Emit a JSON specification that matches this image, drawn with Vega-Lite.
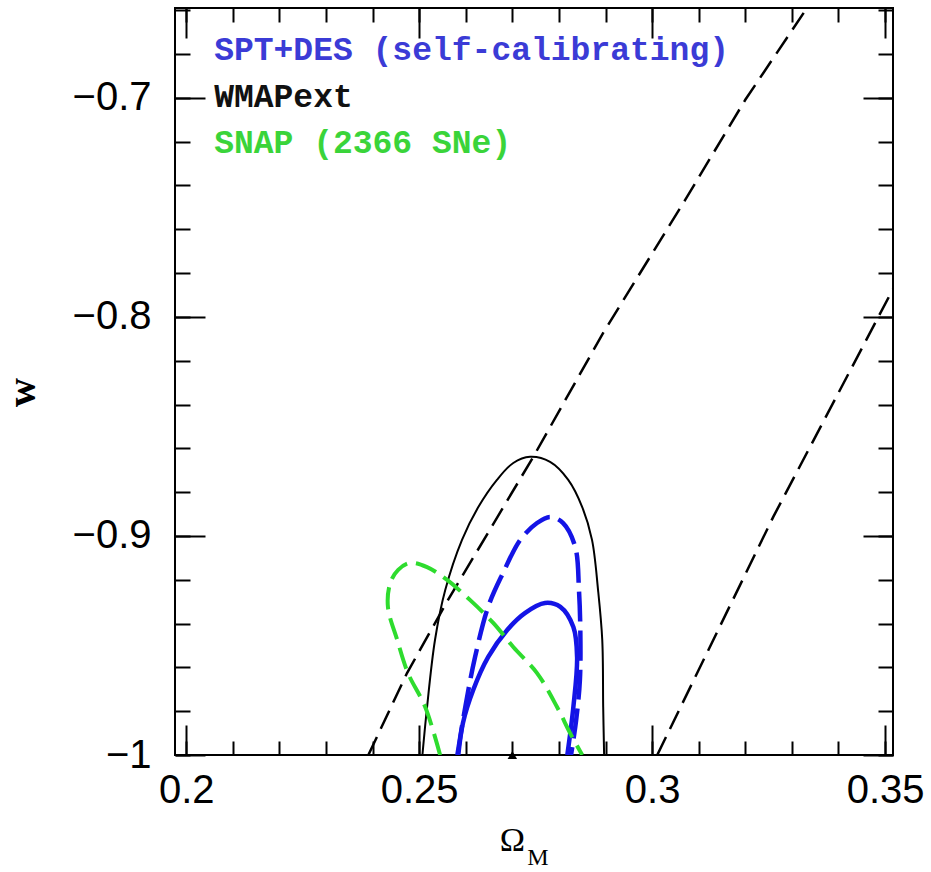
{
  "$schema": "https://vega.github.io/schema/vega-lite/v6.json",
  "width": 718,
  "height": 747,
  "autosize": {"type": "none"},
  "padding": {"left": 175, "top": 8, "right": 38, "bottom": 117},
  "background": "white",
  "config": {
    "view": {"stroke": "black", "strokeWidth": 2},
    "axis": {"grid": false, "domain": false, "tickColor": "black", "tickWidth": 2, "labelColor": "black", "titleColor": "black", "labelFlush": false, "labelOverlap": false}
  },
  "datasets": {
    "wmap": [
      {"i": 1, "x": 0.2507, "y": -1.0},
      {"i": 2, "x": 0.2517, "y": -0.9781},
      {"i": 3, "x": 0.2534, "y": -0.9475},
      {"i": 4, "x": 0.2556, "y": -0.9247},
      {"i": 5, "x": 0.2592, "y": -0.9018},
      {"i": 6, "x": 0.2627, "y": -0.8868},
      {"i": 7, "x": 0.2667, "y": -0.8744},
      {"i": 8, "x": 0.2702, "y": -0.8667},
      {"i": 9, "x": 0.2738, "y": -0.8639},
      {"i": 10, "x": 0.2781, "y": -0.8662},
      {"i": 11, "x": 0.2820, "y": -0.8744},
      {"i": 12, "x": 0.2850, "y": -0.8868},
      {"i": 13, "x": 0.2871, "y": -0.9018},
      {"i": 14, "x": 0.2884, "y": -0.9247},
      {"i": 15, "x": 0.2893, "y": -0.9475},
      {"i": 16, "x": 0.2895, "y": -0.9781},
      {"i": 17, "x": 0.2897, "y": -1.0}
    ],
    "wmapdash": [
      {"seg": "a", "i": 1, "x": 0.2391, "y": -1.0},
      {"seg": "a", "i": 2, "x": 0.2474, "y": -0.9626},
      {"seg": "a", "i": 3, "x": 0.2562, "y": -0.9292},
      {"seg": "a", "i": 4, "x": 0.2745, "y": -0.8639},
      {"seg": "a", "i": 5, "x": 0.2895, "y": -0.8073},
      {"seg": "a", "i": 6, "x": 0.3071, "y": -0.7466},
      {"seg": "a", "i": 7, "x": 0.3200, "y": -0.7009},
      {"seg": "a", "i": 8, "x": 0.3345, "y": -0.655},
      {"seg": "b", "i": 1, "x": 0.3011, "y": -1.0},
      {"seg": "b", "i": 2, "x": 0.3260, "y": -0.8913},
      {"seg": "b", "i": 3, "x": 0.3540, "y": -0.778}
    ],
    "blueout": [
      {"i": 1, "x": 0.2582, "y": -1.0},
      {"i": 2, "x": 0.2599, "y": -0.9781},
      {"i": 3, "x": 0.2620, "y": -0.9553},
      {"i": 4, "x": 0.2648, "y": -0.9324},
      {"i": 5, "x": 0.2680, "y": -0.9169},
      {"i": 6, "x": 0.2717, "y": -0.9018},
      {"i": 7, "x": 0.2753, "y": -0.8941},
      {"i": 8, "x": 0.2781, "y": -0.8913},
      {"i": 9, "x": 0.2809, "y": -0.8941},
      {"i": 10, "x": 0.2835, "y": -0.9050},
      {"i": 11, "x": 0.2843, "y": -0.9247},
      {"i": 12, "x": 0.2846, "y": -0.9443},
      {"i": 13, "x": 0.2845, "y": -0.9658},
      {"i": 14, "x": 0.2837, "y": -0.9840},
      {"i": 15, "x": 0.2826, "y": -1.0}
    ],
    "bluein": [
      {"i": 1, "x": 0.2584, "y": -1.0},
      {"i": 2, "x": 0.2594, "y": -0.9854},
      {"i": 3, "x": 0.2616, "y": -0.9703},
      {"i": 4, "x": 0.2648, "y": -0.9553},
      {"i": 5, "x": 0.2689, "y": -0.9429},
      {"i": 6, "x": 0.2727, "y": -0.9352},
      {"i": 7, "x": 0.2770, "y": -0.9306},
      {"i": 8, "x": 0.2803, "y": -0.9324},
      {"i": 9, "x": 0.2831, "y": -0.9416},
      {"i": 10, "x": 0.2839, "y": -0.9553},
      {"i": 11, "x": 0.2831, "y": -0.9781},
      {"i": 12, "x": 0.2818, "y": -1.0}
    ],
    "snap": [
      {"i": 1, "x": 0.2545, "y": -1.0},
      {"i": 2, "x": 0.2513, "y": -0.9781},
      {"i": 3, "x": 0.2476, "y": -0.9626},
      {"i": 4, "x": 0.2453, "y": -0.9475},
      {"i": 5, "x": 0.2433, "y": -0.9324},
      {"i": 6, "x": 0.2438, "y": -0.9215},
      {"i": 7, "x": 0.2455, "y": -0.9155},
      {"i": 8, "x": 0.2481, "y": -0.9123},
      {"i": 9, "x": 0.2517, "y": -0.9142},
      {"i": 10, "x": 0.2560, "y": -0.9201},
      {"i": 11, "x": 0.2609, "y": -0.9292},
      {"i": 12, "x": 0.2659, "y": -0.9397},
      {"i": 13, "x": 0.2702, "y": -0.9507},
      {"i": 14, "x": 0.2753, "y": -0.9626},
      {"i": 15, "x": 0.2796, "y": -0.9781},
      {"i": 16, "x": 0.2824, "y": -0.9900},
      {"i": 17, "x": 0.2850, "y": -1.0}
    ],
    "legend": [
      {"label": "SPT+DES (self-calibrating)", "x": 0.206, "y": -0.678, "c": "blue"},
      {"label": "WMAPext", "x": 0.206, "y": -0.6995, "c": "black"},
      {"label": "SNAP (2366 SNe)", "x": 0.206, "y": -0.7205, "c": "green"}
    ],
    "fiducial": [
      {"x": 0.27, "y": -1.0}
    ],
    "subscript": [
      {"label": "M", "x": 0.2755, "y": -1.047}
    ]
  },
  "resolve": {"axis": {"x": "independent", "y": "independent"}},
  "layer": [
    {
      "data": {"name": "wmap"},
      "mark": {"type": "line", "color": "black", "strokeWidth": 2, "interpolate": "catmull-rom", "clip": true},
      "encoding": {
        "x": {"field": "x", "type": "quantitative", "scale": {"domain": [0.1976, 0.3517], "nice": false, "zero": false},
          "axis": {"orient": "bottom", "values": [0.2, 0.25, 0.3, 0.35], "format": ".2~f", "ticks": false,
            "labelFont": "Liberation Sans", "labelFontSize": 40, "labelPadding": 15,
            "title": "Ω", "titleFont": "Liberation Serif", "titleFontSize": 34, "titleFontWeight": "normal",
            "titleX": 337, "titleY": 85, "titleBaseline": "middle", "titleAlign": "center"}},
        "y": {"field": "y", "type": "quantitative", "scale": {"domain": [-1, -0.659], "nice": false, "zero": false},
          "axis": {"orient": "left", "values": [-1, -0.9, -0.8, -0.7], "format": ".1~f", "ticks": false,
            "labelFont": "Liberation Sans", "labelFontSize": 40, "labelPadding": 24,
            "title": "w", "titleFont": "Liberation Serif", "titleFontSize": 40, "titleFontWeight": "bold",
            "titleX": -153, "titleY": 384, "titleAngle": 270, "titleBaseline": "middle", "titleAlign": "center"}},
        "order": {"field": "i", "type": "quantitative"}
      }
    },
    {
      "data": {"name": "wmapdash"},
      "mark": {"type": "line", "color": "black", "strokeWidth": 2.5, "strokeDash": [20, 9], "clip": true},
      "encoding": {
        "x": {"field": "x", "type": "quantitative", "scale": {"domain": [0.1976, 0.3517], "nice": false, "zero": false},
          "axis": {"orient": "bottom", "values": [0.2, 0.21, 0.22, 0.23, 0.24, 0.25, 0.26, 0.27, 0.28, 0.29, 0.3, 0.31, 0.32, 0.33, 0.34, 0.35],
            "labels": false, "title": null, "tickSize": -14}},
        "y": {"field": "y", "type": "quantitative", "scale": {"domain": [-1, -0.659], "nice": false, "zero": false},
          "axis": {"orient": "left", "values": [-1, -0.98, -0.96, -0.94, -0.92, -0.9, -0.88, -0.86, -0.84, -0.82, -0.8, -0.78, -0.76, -0.74, -0.72, -0.7, -0.68, -0.66],
            "labels": false, "title": null, "tickSize": -15}},
        "detail": {"field": "seg", "type": "nominal"},
        "order": {"field": "i", "type": "quantitative"}
      }
    },
    {
      "data": {"name": "bluein"},
      "mark": {"type": "line", "color": "#1414e6", "strokeWidth": 4.5, "interpolate": "catmull-rom", "clip": true},
      "encoding": {
        "x": {"field": "x", "type": "quantitative", "scale": {"domain": [0.1976, 0.3517], "nice": false, "zero": false},
          "axis": {"orient": "bottom", "values": [0.2, 0.25, 0.3, 0.35], "labels": false, "title": null, "tickSize": -30}},
        "y": {"field": "y", "type": "quantitative", "scale": {"domain": [-1, -0.659], "nice": false, "zero": false},
          "axis": {"orient": "left", "values": [-1, -0.9, -0.8, -0.7], "labels": false, "title": null, "tickSize": -30}},
        "order": {"field": "i", "type": "quantitative"}
      }
    },
    {
      "data": {"name": "blueout"},
      "mark": {"type": "line", "color": "#1414e6", "strokeWidth": 4.5, "strokeDash": [30, 9], "interpolate": "catmull-rom", "clip": true},
      "encoding": {
        "x": {"field": "x", "type": "quantitative", "scale": {"domain": [0.1976, 0.3517], "nice": false, "zero": false},
          "axis": {"orient": "top", "values": [0.2, 0.25, 0.3, 0.35], "labels": false, "title": null, "tickSize": -30}},
        "y": {"field": "y", "type": "quantitative", "scale": {"domain": [-1, -0.659], "nice": false, "zero": false},
          "axis": {"orient": "right", "values": [-1, -0.9, -0.8, -0.7], "labels": false, "title": null, "tickSize": -30}},
        "order": {"field": "i", "type": "quantitative"}
      }
    },
    {
      "data": {"name": "snap"},
      "mark": {"type": "line", "color": "#2edc2e", "strokeWidth": 4, "strokeDash": [22, 9], "interpolate": "catmull-rom", "clip": true},
      "encoding": {
        "x": {"field": "x", "type": "quantitative", "scale": {"domain": [0.1976, 0.3517], "nice": false, "zero": false},
          "axis": {"orient": "top", "values": [0.2, 0.21, 0.22, 0.23, 0.24, 0.25, 0.26, 0.27, 0.28, 0.29, 0.3, 0.31, 0.32, 0.33, 0.34, 0.35],
            "labels": false, "title": null, "tickSize": -14}},
        "y": {"field": "y", "type": "quantitative", "scale": {"domain": [-1, -0.659], "nice": false, "zero": false},
          "axis": {"orient": "right", "values": [-1, -0.98, -0.96, -0.94, -0.92, -0.9, -0.88, -0.86, -0.84, -0.82, -0.8, -0.78, -0.76, -0.74, -0.72, -0.7, -0.68, -0.66],
            "labels": false, "title": null, "tickSize": -15}},
        "order": {"field": "i", "type": "quantitative"}
      }
    },
    {
      "data": {"name": "fiducial"},
      "mark": {"type": "point", "shape": "triangle-up", "filled": true, "color": "black", "size": 90, "opacity": 1, "clip": false},
      "encoding": {
        "x": {"field": "x", "type": "quantitative", "scale": {"domain": [0.1976, 0.3517], "nice": false, "zero": false}, "axis": null},
        "y": {"field": "y", "type": "quantitative", "scale": {"domain": [-1, -0.659], "nice": false, "zero": false}, "axis": null}
      }
    },
    {
      "data": {"name": "legend"},
      "mark": {"type": "text", "align": "left", "baseline": "middle", "font": "Liberation Mono", "fontSize": 33, "fontWeight": "bold", "clip": false},
      "encoding": {
        "x": {"field": "x", "type": "quantitative", "scale": {"domain": [0.1976, 0.3517], "nice": false, "zero": false}, "axis": null},
        "y": {"field": "y", "type": "quantitative", "scale": {"domain": [-1, -0.659], "nice": false, "zero": false}, "axis": null},
        "text": {"field": "label", "type": "nominal"},
        "color": {"field": "c", "type": "nominal", "scale": {"domain": ["blue", "black", "green"], "range": ["#3b3bd6", "#111111", "#3ad43a"]}, "legend": null}
      }
    },
    {
      "data": {"name": "subscript"},
      "mark": {"type": "text", "align": "center", "baseline": "middle", "font": "Liberation Serif", "fontSize": 24, "color": "black", "clip": false},
      "encoding": {
        "x": {"field": "x", "type": "quantitative", "scale": {"domain": [0.1976, 0.3517], "nice": false, "zero": false}, "axis": null},
        "y": {"field": "y", "type": "quantitative", "scale": {"domain": [-1, -0.659], "nice": false, "zero": false}, "axis": null},
        "text": {"field": "label", "type": "nominal"}
      }
    }
  ]
}
